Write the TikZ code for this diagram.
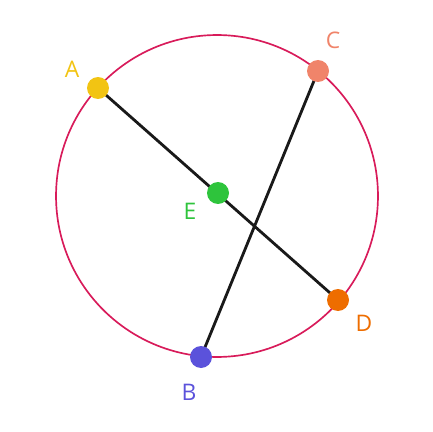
\documentclass[tikz,border=0pt]{standalone}
\usepackage{fontspec}
\setmainfont{Open Sans}
\definecolor{ringred}{HTML}{D81B5A}
\definecolor{ptA}{HTML}{F2C413}
\definecolor{ptB}{HTML}{5B52DB}
\definecolor{ptC}{HTML}{F0846A}
\definecolor{ptD}{HTML}{EE6D00}
\definecolor{ptE}{HTML}{2EC43C}
\tikzset{
  dot/.style={circle, inner sep=0pt, minimum size=0.44cm},
  lbl/.style={font=\fontsize{13}{15}\selectfont, inner sep=0pt},
  chord/.style={line width=1.6pt, black!90}
}
\begin{document}
\begin{tikzpicture}[x=0.02cm, y=-0.02cm]
  \useasboundingbox (0,0) rectangle (432,432);
  % circle
  \node[draw=ringred, line width=0.95pt, circle, inner sep=0pt, minimum size=6.44cm] (ring) at (217,196) {};
  % chords
  \coordinate (a) at (98,88);
  \coordinate (b) at (201,357);
  \coordinate (c) at (318,71);
  \coordinate (d) at (338,300);
  \coordinate (e) at (218,193);
  \draw[chord] (a) -- (d);
  \draw[chord] (c) -- (b);
  % points
  \node[dot, fill=ptA] (A) at (a) {};
  \node[dot, fill=ptB] (B) at (b) {};
  \node[dot, fill=ptC] (C) at (c) {};
  \node[dot, fill=ptD] (D) at (d) {};
  \node[dot, fill=ptE] (E) at (e) {};
  % labels
  \node[lbl, text=ptA] (la) at (72,69) {A};
  \node[lbl, text=ptB] (lb) at (189,392) {B};
  \node[lbl, text=ptC] (lc) at (333,40) {C};
  \node[lbl, text=ptD] (ld) at (364,323) {D};
  \node[lbl, text=ptE] (le) at (190,211) {E};
\end{tikzpicture}
\end{document}
